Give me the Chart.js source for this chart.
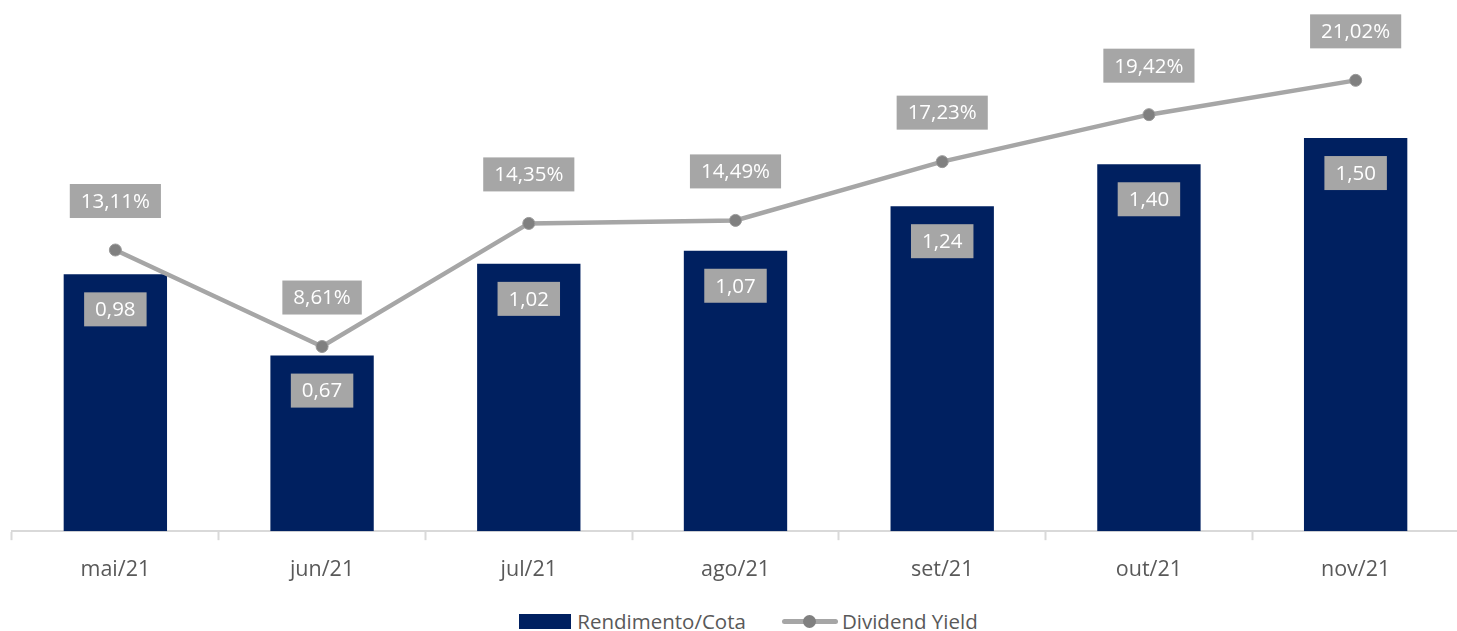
<!DOCTYPE html>
<html>
<head>
<meta charset="utf-8">
<script src="https://cdn.jsdelivr.net/npm/chart.js@4"></script>
<style>
  html, body { margin: 0; padding: 0; background: #fff; overflow: hidden; }
  #wrap { position: relative; width: 1466px; height: 600px; }
  #legenda { position: absolute; top: 607px; left: 0; width: 1497px; display: flex; justify-content: center;
    align-items: center; font-family: "Open Sans", sans-serif; font-size: 20.5px; color: #595959; }
  .item { display: flex; align-items: center; }
  .caixa { width: 52px; height: 15px; background: #002060; margin-right: 6px; }
  .linha { position: relative; width: 56px; height: 5px; background: #a6a6a6; margin-right: 4px; border-radius: 3px; }
  .linha::after { content: ""; position: absolute; left: 21px; top: -4px; width: 13px; height: 13px; border-radius: 50%; background: #808080; }
</style>
</head>
<body>
<div id="wrap"><canvas id="grafico"></canvas></div>
<div id="legenda">
  <span class="item"><span class="caixa"></span>Rendimento/Cota</span>
  <span class="item" style="margin-left:36px"><span class="linha"></span>Dividend Yield</span>
</div>
<script>
const meses = ["mai/21", "jun/21", "jul/21", "ago/21", "set/21", "out/21", "nov/21"];
const rendimento = [0.98, 0.67, 1.02, 1.07, 1.24, 1.40, 1.50];
const dividendYield = [13.11, 8.61, 14.35, 14.49, 17.23, 19.42, 21.02];

const fmt = (v, casas) => v.toFixed(casas).replace(".", ",");

// desenha os rótulos com fundo cinza
const rotulos = {
    id: "rotulos",
    afterDatasetsDraw(chart) {
        const ctx = chart.ctx;
        ctx.save();
        ctx.font = "20.5px 'Open Sans', sans-serif";
        ctx.textAlign = "center";
        ctx.textBaseline = "middle";
        chart.data.datasets.forEach((ds, i) => {
            const meta = chart.getDatasetMeta(i);
            meta.data.forEach((el, j) => {
                let texto, cy;
                if (ds.type === "bar") {
                    texto = fmt(ds.data[j], 2);
                    cy = el.y + 35;
                } else {
                    texto = fmt(ds.data[j], 2) + "%";
                    cy = el.y - 49;
                }
                const w = ctx.measureText(texto).width + 22;
                const h = 34;
                ctx.fillStyle = "#a6a6a6";
                ctx.fillRect(el.x - w / 2, cy - h / 2, w, h);
                ctx.fillStyle = "#ffffff";
                ctx.fillText(texto, el.x, cy + 1);
            });
        });
        ctx.restore();
    }
};

new Chart(document.getElementById("grafico"), {
    data: {
        labels: meses,
        datasets: [
            {
                type: "line",
                label: "Dividend Yield",
                data: dividendYield,
                yAxisID: "y1",
                borderColor: "#a6a6a6",
                borderWidth: 4.5,
                pointRadius: 6,
                pointBackgroundColor: "#808080",
                pointBorderColor: "#999999",
                pointBorderWidth: 1,
                tension: 0,
                order: 0
            },
            {
                type: "bar",
                label: "Rendimento/Cota",
                data: rendimento,
                yAxisID: "y",
                backgroundColor: "#002060",
                categoryPercentage: 1,
                barPercentage: 0.5,
                order: 1
            }
        ]
    },
    options: {
        responsive: true,
        maintainAspectRatio: false,
        animation: false,
        layout: { padding: { top: 5, left: 12, right: 0, bottom: 0 } },
        plugins: {
            legend: { display: false },
            tooltip: { enabled: false }
        },
        scales: {
            x: {
                offset: true,
                grid: { offset: true, drawOnChartArea: false, color: "#d9d9d9", tickLength: 9, tickWidth: 2 },
                border: { color: "#d9d9d9", width: 2 },
                ticks: { color: "#595959", font: { family: "Open Sans", size: 21.5 }, padding: 17 }
            },
            y: { display: false, min: 0, max: 2.0 },
            y1: { display: false, min: 0, max: 24.44 }
        }
    },
    plugins: [rotulos]
});
</script>
</body>
</html>
